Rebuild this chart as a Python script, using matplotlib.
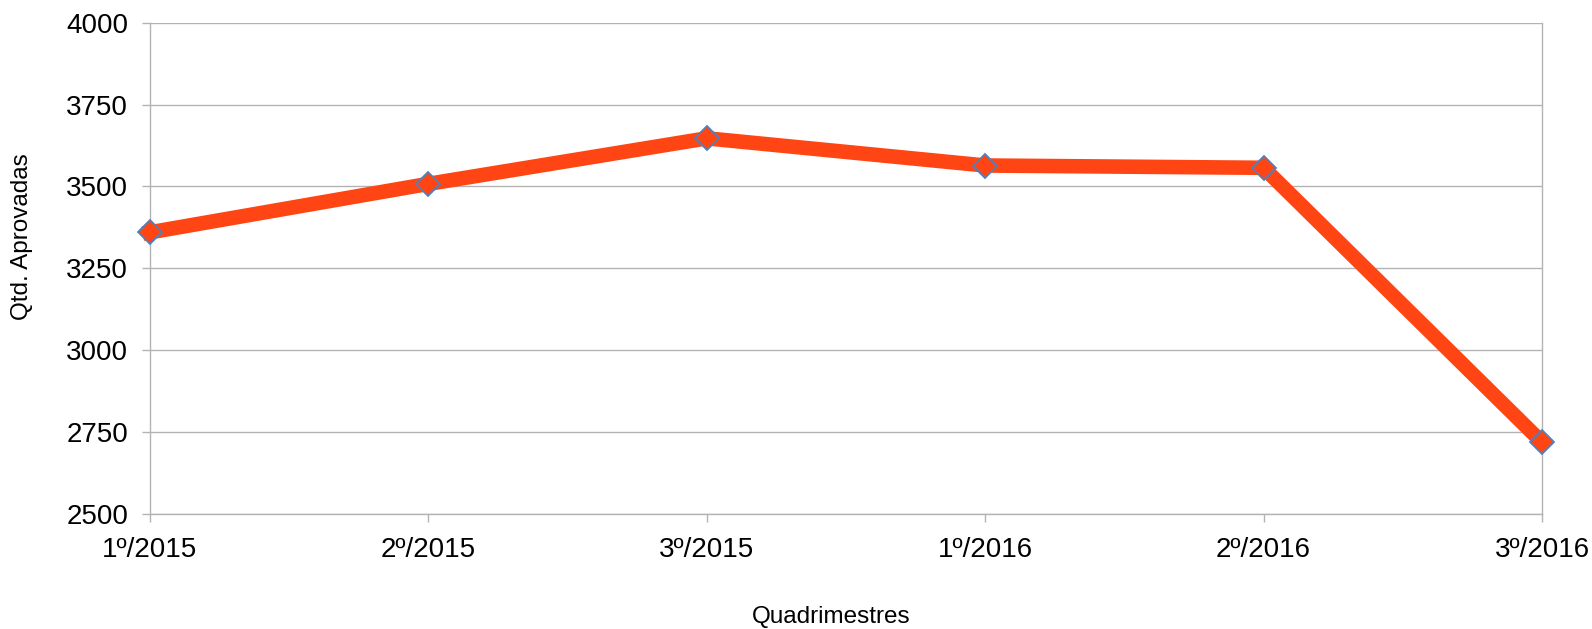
import matplotlib
matplotlib.use("Agg")
import matplotlib.pyplot as plt

# DATA
QUADRIMESTRES = ["1º/2015", "2º/2015", "3º/2015", "1º/2016", "2º/2016", "3º/2016"]
APROVADAS = [3360, 3508, 3647, 3564, 3557, 2719]

C_LINE, C_EDGE, C_GRID = "#FF4513", "#4F81BD", "#B3B3B3"

plt.rcParams["font.family"] = ["Liberation Sans", "DejaVu Sans"]

W, H = 1592, 629
fig = plt.figure(figsize=(W / 100, H / 100), dpi=100)
ax = fig.add_axes([150 / W, 1 - 514 / H, (1542 - 150) / W, (514 - 22.7) / H])

x = list(range(len(QUADRIMESTRES)))
ax.plot(x, APROVADAS, color=C_LINE, lw=10.5, solid_joinstyle="miter",
        marker="D", ms=12.5, mfc=C_LINE, mec=C_EDGE, mew=1.3,
        clip_on=False, zorder=3)

ax.set_xlim(0, len(QUADRIMESTRES) - 1)
ax.set_ylim(2500, 4000)
ax.set_yticks(range(2500, 4001, 250))
ax.set_xticks(x)
ax.set_xticklabels(QUADRIMESTRES)

ax.grid(axis="y", color=C_GRID, lw=1)
ax.set_axisbelow(True)
for side in ["left", "right", "bottom"]:
    ax.spines[side].set_color(C_GRID)
    ax.spines[side].set_linewidth(1)
ax.spines["top"].set_visible(False)

ax.tick_params(axis="both", color=C_GRID, width=1, length=5.8,
               labelsize=20, labelcolor="black")
ax.tick_params(axis="y", pad=10)
ax.tick_params(axis="x", pad=11)

ax.set_xlabel("Quadrimestres", fontsize=17.5, va="center")
ax.set_ylabel("Qtd. Aprovadas", fontsize=17.5, va="center")
ax.xaxis.set_label_coords(0.489, -0.21)
ax.yaxis.set_label_coords(-0.092, 0.565)

fig.savefig("out.png", dpi=100)
